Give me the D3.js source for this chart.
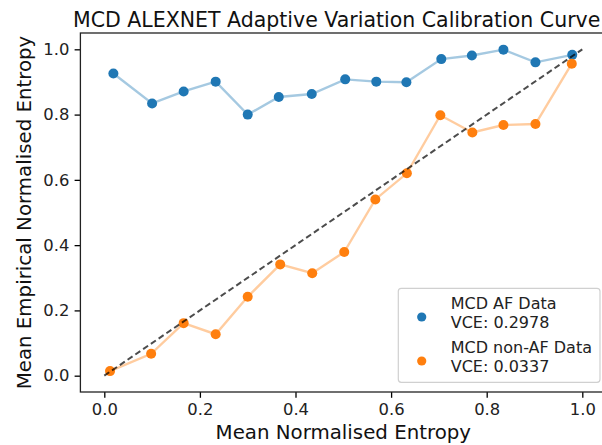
<!DOCTYPE html>
<html>
<head>
<meta charset="utf-8">
<script src="https://cdn.jsdelivr.net/npm/d3@7"></script>
<style>
  html, body { margin: 0; padding: 0; background: #fff; }
  svg { display: block; font-family: "DejaVu Sans", sans-serif; }
</style>
</head>
<body>
<svg id="chart" width="602" height="445"></svg>
<script>
// Mean normalised entropy per bin (x) and the empirical entropy for each group (y)
const afEntropy    = [0.019, 0.100, 0.166, 0.233, 0.300, 0.365, 0.434, 0.504, 0.569, 0.632, 0.705, 0.769, 0.835, 0.902, 0.979];
const afEmpirical  = [0.926, 0.834, 0.871, 0.901, 0.800, 0.854, 0.863, 0.908, 0.901, 0.899, 0.970, 0.981, 0.999, 0.960, 0.983];
const nonAfEntropy   = [0.012, 0.098, 0.166, 0.233, 0.300, 0.368, 0.435, 0.502, 0.567, 0.633, 0.703, 0.770, 0.835, 0.902, 0.978];
const nonAfEmpirical = [0.014, 0.067, 0.161, 0.127, 0.242, 0.341, 0.314, 0.379, 0.540, 0.620, 0.798, 0.745, 0.768, 0.771, 0.956];
const diagonal = [0, 1];
const tickValues = [0.0, 0.2, 0.4, 0.6, 0.8, 1.0];
const seriesNames = ["MCD AF Data", "MCD non-AF Data"];
const vceLabels = ["VCE: 0.2978", "VCE: 0.0337"];
const colors = ["#1f77b4", "#ff7f0e"];

const svg = d3.select("#chart");
const plot = { left: 80.4, top: 33, right: 606.2, bottom: 392 };

const x = d3.scaleLinear().domain([-0.05, 1.05]).range([plot.left, plot.right]);
const y = d3.scaleLinear().domain([-0.05, 1.05]).range([plot.bottom, plot.top]);

const tickLen = 5.8, tickPad = 5.2, tickFont = "16.4px";

// axes
const xAxis = svg.append("g")
  .attr("transform", `translate(0,${plot.bottom})`)
  .call(d3.axisBottom(x).tickValues(tickValues).tickFormat(d3.format(".1f"))
    .tickSizeInner(tickLen).tickSizeOuter(0).tickPadding(tickPad));
const yAxis = svg.append("g")
  .attr("transform", `translate(${plot.left},0)`)
  .call(d3.axisLeft(y).tickValues(tickValues).tickFormat(d3.format(".1f"))
    .tickSizeInner(tickLen).tickSizeOuter(0).tickPadding(tickPad));
[xAxis, yAxis].forEach(g => {
  g.select(".domain").remove();
  g.selectAll(".tick line").attr("stroke", "#000").attr("stroke-width", 1.3);
  g.selectAll(".tick text").attr("fill", "#222").style("font-size", tickFont)
    .style("font-family", "'DejaVu Sans', sans-serif");
});

// frame
svg.append("rect")
  .attr("x", plot.left).attr("y", plot.top)
  .attr("width", plot.right - plot.left).attr("height", plot.bottom - plot.top)
  .attr("fill", "none").attr("stroke", "#222").attr("stroke-width", 1.3);

const line = d3.line().x(d => x(d[0])).y(d => y(d[1]));

const series = [
  d3.zip(afEntropy, afEmpirical),
  d3.zip(nonAfEntropy, nonAfEmpirical)
];

series.forEach((pts, i) => {
  svg.append("path").datum(pts)
    .attr("d", line).attr("fill", "none")
    .attr("stroke", colors[i]).attr("stroke-opacity", 0.4).attr("stroke-width", 2.4);
  svg.append("g").selectAll("circle").data(pts).join("circle")
    .attr("cx", d => x(d[0])).attr("cy", d => y(d[1])).attr("r", 5)
    .attr("fill", colors[i]);
});

// perfect calibration reference
svg.append("path").datum(diagonal.map(v => [v, v]))
  .attr("d", line).attr("fill", "none")
  .attr("stroke", "#000").attr("stroke-opacity", 0.7)
  .attr("stroke-width", 2).attr("stroke-dasharray", "6,3.4");

// title and axis labels
svg.append("text").attr("x", 73).attr("y", 26.5)
  .style("font-size", "20.5px").attr("fill", "#111")
  .text("MCD ALEXNET Adaptive Variation Calibration Curve");
svg.append("text").attr("x", (plot.left + plot.right) / 2).attr("y", 439)
  .attr("text-anchor", "middle").style("font-size", "19.8px").attr("fill", "#111")
  .text("Mean Normalised Entropy");
svg.append("text")
  .attr("transform", `translate(31,${(plot.top + plot.bottom) / 2}) rotate(-90)`)
  .attr("text-anchor", "middle").style("font-size", "19.8px").attr("fill", "#111")
  .text("Mean Empirical Normalised Entropy");

// legend
const legend = svg.append("g");
legend.append("rect")
  .attr("x", 398.3).attr("y", 288.3).attr("width", 201.7).attr("height", 94)
  .attr("rx", 3).attr("fill", "#fff").attr("fill-opacity", 0.8)
  .attr("stroke", "#d0d0d0").attr("stroke-width", 1.2);
seriesNames.forEach((name, i) => {
  const top = 308.6 + i * 44;
  legend.append("circle").attr("cx", 421.7).attr("cy", top + 8.4).attr("r", 4.6).attr("fill", colors[i]);
  legend.append("text").attr("x", 450.7).attr("y", top)
    .style("font-size", "16px").attr("fill", "#222").text(name);
  legend.append("text").attr("x", 450.7).attr("y", top + 19.4)
    .style("font-size", "16px").attr("fill", "#222").text(vceLabels[i]);
});
</script>
</body>
</html>
